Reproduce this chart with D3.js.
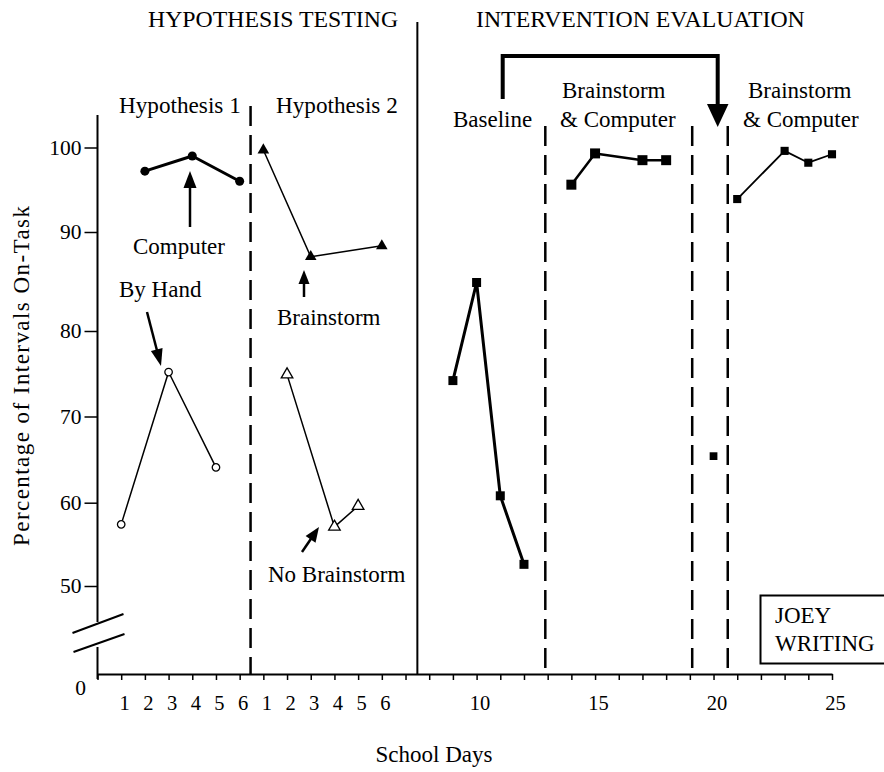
<!DOCTYPE html>
<html>
<head>
<meta charset="utf-8">
<script src="https://cdn.jsdelivr.net/npm/d3@7"></script>
<style>
  html, body { margin: 0; padding: 0; background: #fff; }
  svg { display: block; font-family: 'Liberation Serif', 'Times New Roman', serif; }
  svg text { font-family: 'Liberation Serif', 'Times New Roman', serif !important; fill: #000; }
</style>
</head>
<body>
<svg id="chart" width="884" height="772"></svg>
<script>
// ---------- DATA ----------
// Hypothesis 1 (sessions 1-6)
const computerSessions = [2, 4, 6];
const computerValues   = [97.2, 99.0, 96.0];
const byHandSessions   = [1, 3, 5];
const byHandValues     = [57.4, 75.2, 64.1];
// Hypothesis 2 (sessions 1-6)
const brainstormSessions   = [1, 3, 6];
const brainstormValues     = [99.7, 87.5, 88.6];
const noBrainstormSessions = [2, 4, 5];
const noBrainstormValues   = [74.9, 57.1, 59.6];
// Intervention evaluation (school days)
const baselineDays   = [9, 10, 11, 12];
const baselineValues = [74.2, 84.9, 60.8, 52.6];
const bc1Days   = [14, 15, 17, 18];
const bc1Values = [95.6, 99.3, 98.5, 98.5];
const probeDays   = [20];
const probeValues = [65.4];
const bc2Days   = [21, 23, 24, 25];
const bc2Values = [93.9, 99.6, 98.2, 99.2];
// phase change lines (school days) and panel dividers (slots)
const phaseLineDays = [12.9, 19.1, 20.6];
const hypothesisDividerSlot = 6.46;
const sectionDividerSlot = 13.5;
// tick labels
const yTickValues = [50, 60, 70, 80, 90, 100];
const xTickSlots  = [1,2,3,4,5,6,7,8,9,10,11,12,16,21,26,31];
const xTickLabels = ["1","2","3","4","5","6","1","2","3","4","5","6","10","15","20","25"];

// slot mapping: H1 session s -> slot s ; H2 session s -> slot s+6 ; day d -> slot d+6
const H2_OFFSET = 6, DAY_OFFSET = 6;

// ---------- SCALES ----------
const FONT = "'Liberation Serif', 'Times New Roman', serif";
const svg = d3.select("#chart").attr("font-family", FONT);
const x = d3.scaleLinear().domain([0, 31]).range([97.5, 832]);
// hand-drawn (uneven) ordinate with a broken axis between 0 and 50
const y = d3.scaleLinear()
  .domain([0, 50, 60, 70, 80, 90, 100])
  .range([674, 586, 502.7, 416.5, 331, 232, 147.5]);

// ---------- AXES ----------
const tickLabelMap = new Map(xTickSlots.map((s, i) => [s, xTickLabels[i]]));
const xAxis = d3.axisBottom(x)
  .tickValues(d3.range(0, 32))
  .tickSize(6)
  .tickSizeOuter(0)
  .tickFormat(s => tickLabelMap.get(s) || "");
const gx = svg.append("g").attr("transform", `translate(0,${y(0)})`).call(xAxis)
  .attr("font-family", FONT);
gx.select(".domain").attr("stroke", "#000").attr("stroke-width", 2);
gx.selectAll(".tick line").attr("stroke", "#000").attr("stroke-width", 1.5);
gx.selectAll(".tick text")
  .attr("y", 36).attr("dy", 0).attr("dx", 3)
  .attr("font-family", FONT).style("font-size", "20.5px").attr("fill", "#000");

const yAxis = d3.axisLeft(y).tickValues(yTickValues).tickSize(13).tickSizeOuter(0).tickPadding(3);
const gy = svg.append("g").attr("transform", `translate(${x(0)},0)`).call(yAxis)
  .attr("font-family", FONT);
gy.select(".domain").remove();
gy.selectAll(".tick line").attr("stroke", "#000").attr("stroke-width", 1.5);
gy.selectAll(".tick text").attr("font-family", FONT).style("font-size", "21.5px").attr("fill", "#000");

// broken y axis line
const ax = x(0);
svg.append("line").attr("x1", ax).attr("x2", ax).attr("y1", 115).attr("y2", 622)
  .attr("stroke", "#000").attr("stroke-width", 2);
svg.append("line").attr("x1", ax).attr("x2", ax).attr("y1", 647).attr("y2", y(0) + 5)
  .attr("stroke", "#000").attr("stroke-width", 2);
// break marks
svg.append("line").attr("x1", ax - 25).attr("y1", 633).attr("x2", ax + 26).attr("y2", 614)
  .attr("stroke", "#000").attr("stroke-width", 2);
svg.append("line").attr("x1", ax - 24).attr("y1", 652).attr("x2", ax + 27).attr("y2", 634)
  .attr("stroke", "#000").attr("stroke-width", 2);
svg.append("text").attr("x", ax - 17).attr("y", y(0) + 21).attr("text-anchor", "middle")
  .style("font-size", "21.5px").text("0");

// ---------- DIVIDERS / PHASE LINES ----------
svg.append("line").attr("x1", x(sectionDividerSlot)).attr("x2", x(sectionDividerSlot))
  .attr("y1", 22).attr("y2", y(0)).attr("stroke", "#000").attr("stroke-width", 2);
svg.append("line").attr("x1", x(hypothesisDividerSlot)).attr("x2", x(hypothesisDividerSlot))
  .attr("y1", 106).attr("y2", y(0)).attr("stroke", "#000").attr("stroke-width", 2.5)
  .attr("stroke-dasharray", "20,9");
svg.selectAll(".phase").data(phaseLineDays).join("line").attr("class", "phase")
  .attr("x1", d => x(d + DAY_OFFSET)).attr("x2", d => x(d + DAY_OFFSET))
  .attr("y1", 126).attr("y2", y(0)).attr("stroke", "#000").attr("stroke-width", 2.5)
  .attr("stroke-dasharray", "20,9");

// ---------- SERIES ----------
function series(slots, values, offset, lineWidth, symbol, size, filled, connect = true) {
  const pts = slots.map((s, i) => [x(s + offset), y(values[i])]);
  if (connect && pts.length > 1) {
    svg.append("path").attr("d", d3.line()(pts)).attr("fill", "none")
      .attr("stroke", "#000").attr("stroke-width", lineWidth).attr("stroke-linejoin", "round");
  }
  svg.append("g").selectAll("path").data(pts).join("path")
    .attr("transform", d => `translate(${d[0]},${d[1]})`)
    .attr("d", d3.symbol().type(symbol).size(size)())
    .attr("fill", filled ? "#000" : "#fff")
    .attr("stroke", "#000").attr("stroke-width", filled ? 0 : 1.3);
}
series(computerSessions, computerValues, 0, 3, d3.symbolCircle, 64, true);
series(byHandSessions, byHandValues, 0, 1.5, d3.symbolCircle, 44, false);
series(brainstormSessions, brainstormValues, H2_OFFSET, 1.5, d3.symbolTriangle, 58, true);
series(noBrainstormSessions, noBrainstormValues, H2_OFFSET, 1.5, d3.symbolTriangle, 58, false);
series(baselineDays, baselineValues, DAY_OFFSET, 3, d3.symbolSquare, 81, true);
series(bc1Days, bc1Values, DAY_OFFSET, 2.5, d3.symbolSquare, 100, true);
series(probeDays, probeValues, DAY_OFFSET, 2, d3.symbolSquare, 60, true, false);
series(bc2Days, bc2Values, DAY_OFFSET, 1.8, d3.symbolSquare, 66, true);

// ---------- ANNOTATIONS ----------
function label(txt, px, py, size = 23, anchor = "start") {
  return svg.append("text").attr("x", px).attr("y", py).attr("text-anchor", anchor)
    .attr("font-family", FONT).style("font-size", size + "px").text(txt);
}
label("HYPOTHESIS TESTING", 148, 27, 23.8);
label("INTERVENTION EVALUATION", 476, 27, 23.8);
label("Hypothesis 1", 119, 113, 23.2);
label("Hypothesis 2", 276, 113, 23.2);
label("Baseline", 453, 127);
label("Brainstorm", 562, 98);
label("& Computer", 560, 127);
label("Brainstorm", 748, 98);
label("& Computer", 743, 127);
label("Computer", 133, 254);
label("By Hand", 119, 297);
label("Brainstorm", 277, 325);
label("No Brainstorm", 268, 582);

// y title
svg.append("text").attr("transform", "translate(29,376) rotate(-90)")
  .attr("text-anchor", "middle").attr("font-family", FONT).style("font-size", "23px")
  .attr("textLength", 340).attr("lengthAdjust", "spacing")
  .text("Percentage of Intervals  On-Task");
// x title
label("School Days", 434, 762, 23, "middle");

// arrows
function arrow(x1, y1, x2, y2, headLen, headW, lw) {
  const dx = x2 - x1, dy = y2 - y1, L = Math.hypot(dx, dy);
  const ux = dx / L, uy = dy / L;
  const bx = x2 - ux * headLen, by = y2 - uy * headLen;
  svg.append("line").attr("x1", x1).attr("y1", y1).attr("x2", bx + ux * 2).attr("y2", by + uy * 2)
    .attr("stroke", "#000").attr("stroke-width", lw);
  const nx = -uy, ny = ux;
  svg.append("polygon")
    .attr("points", [[x2, y2], [bx + nx * headW / 2, by + ny * headW / 2], [bx - nx * headW / 2, by - ny * headW / 2]].map(p => p.join(",")).join(" "))
    .attr("fill", "#000");
}
arrow(190, 227, 190, 171, 17, 13, 2.5);
arrow(147, 312, 161, 366, 17, 12, 2.5);
arrow(304, 297, 304, 270, 14, 11, 2.5);
arrow(302, 552, 319, 527, 15, 12, 2.5);

// bracket arrow (baseline -> probe)
svg.append("path").attr("d", "M502.7,99 V56 H717.7 V107")
  .attr("fill", "none").attr("stroke", "#000").attr("stroke-width", 4)
  .attr("stroke-linejoin", "miter");
svg.append("polygon").attr("points", "707,104 728.5,104 717.7,127").attr("fill", "#000");

// JOEY WRITING box
svg.append("rect").attr("x", 760.5).attr("y", 595.5).attr("width", 140).attr("height", 68)
  .attr("fill", "#fff").attr("stroke", "#000").attr("stroke-width", 2);
label("JOEY", 775, 623);
label("WRITING", 775, 651);
</script>
</body>
</html>
